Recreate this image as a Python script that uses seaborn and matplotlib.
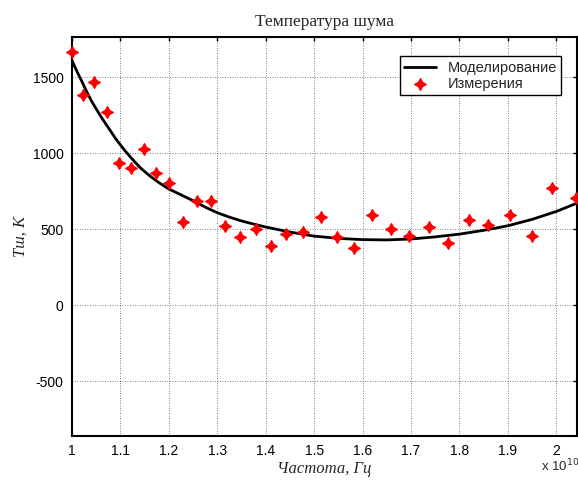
import matplotlib
matplotlib.use("Agg")
import matplotlib.pyplot as plt
import seaborn as sns
import numpy as np
import pandas as pd

# Measured points (frequency in units of 1e10 Hz, noise temperature K)
meas_freq = [1.000, 1.023, 1.046, 1.073, 1.097, 1.122, 1.149, 1.174, 1.200,
             1.230, 1.259, 1.288, 1.317, 1.347, 1.380, 1.411, 1.443, 1.477,
             1.514, 1.547, 1.583, 1.620, 1.658, 1.697, 1.738, 1.776, 1.820,
             1.860, 1.904, 1.950, 1.991, 2.041]
meas_temp = [1668, 1384, 1467, 1270, 934, 901, 1028, 868, 807,
             546, 688, 688, 522, 451, 504, 390, 467, 484,
             583, 451, 375, 594, 502, 458, 517, 408, 561,
             528, 594, 458, 770, 704]

# Model curve
model_freq = [1.00, 1.01, 1.02, 1.03, 1.04, 1.05, 1.06, 1.07, 1.08, 1.09,
              1.10, 1.11, 1.12, 1.13, 1.14, 1.15, 1.16, 1.17, 1.18, 1.19,
              1.20, 1.225, 1.25, 1.275, 1.30, 1.325, 1.35, 1.375, 1.40, 1.45,
              1.50, 1.55, 1.60, 1.65, 1.70, 1.75, 1.80, 1.85, 1.90, 1.95,
              2.00, 2.043]
model_temp = [1610, 1540, 1475, 1408, 1345, 1292, 1240, 1192, 1145, 1097,
              1055, 1015, 978, 942, 908, 880, 853, 829, 806, 785,
              765, 727, 688, 646, 609, 580, 555, 534, 515, 482,
              455, 440, 432, 430, 436, 450, 468, 493, 523, 565,
              617, 672]

x_ticks = [1.0, 1.1, 1.2, 1.3, 1.4, 1.5, 1.6, 1.7, 1.8, 1.9, 2.0]
x_tick_labels = ["1", "1.1", "1.2", "1.3", "1.4", "1.5", "1.6", "1.7", "1.8", "1.9", "2"]
y_ticks = [-500, 0, 500, 1000, 1500]

sns.set_style("white")
plt.rcParams['font.family'] = ['Liberation Sans', 'DejaVu Sans']
plt.rcParams['axes.unicode_minus'] = False

fig = plt.figure(figsize=(5.78, 4.86), dpi=100)
ax = fig.add_axes([72/578, (486-435.7)/486, 505/578, (435.7-36.7)/486])

df_model = pd.DataFrame({"f": model_freq, "T": model_temp})
df_meas = pd.DataFrame({"f": meas_freq, "T": meas_temp})

sns.lineplot(data=df_model, x="f", y="T", ax=ax, color="black", linewidth=2.0,
             label="Моделирование", zorder=3)
sns.scatterplot(data=df_meas, x="f", y="T", ax=ax, color="red", marker=(4, 1, 0),
                s=70, edgecolor="red", linewidth=1.0, label="Измерения", zorder=4,
                clip_on=False)

ax.set_xlim(1.0, 2.043)
ax.set_ylim(-858, 1767)
ax.set_xticks(x_ticks)
ax.set_xticklabels(x_tick_labels)
ax.set_yticks(y_ticks)
ax.grid(True, color="black", linestyle=(0, (1, 2)), linewidth=0.6, alpha=0.65)
ax.tick_params(direction="in", length=3, width=1, top=True, right=True,
               labelsize=10, colors="black", pad=6)
for s in ax.spines.values():
    s.set_visible(True)
    s.set_color("black")
    s.set_linewidth(1.5)

ax.set_xlabel("Частота, Гц", fontfamily="Liberation Serif", fontstyle="italic",
              fontsize=12, labelpad=2)
ax.set_ylabel("Тш, К", fontfamily="Liberation Serif", fontstyle="italic",
              fontsize=12, labelpad=3)
ax.set_title("Температура шума", fontfamily="Liberation Serif", fontsize=12.5, pad=8)

fig.text(560/578, 1 - 466/486, r"x 10$^{10}$", fontsize=9.5, ha="center", va="center")

leg = ax.legend(loc="upper right", bbox_to_anchor=(0.975, 0.958), fontsize=10.5,
                frameon=True, fancybox=False, edgecolor="black", framealpha=1,
                borderpad=0.3, handlelength=2.2, labelspacing=0.15,
                borderaxespad=0.2)
leg.get_frame().set_linewidth(1.0)

fig.savefig("out.png", dpi=100)
